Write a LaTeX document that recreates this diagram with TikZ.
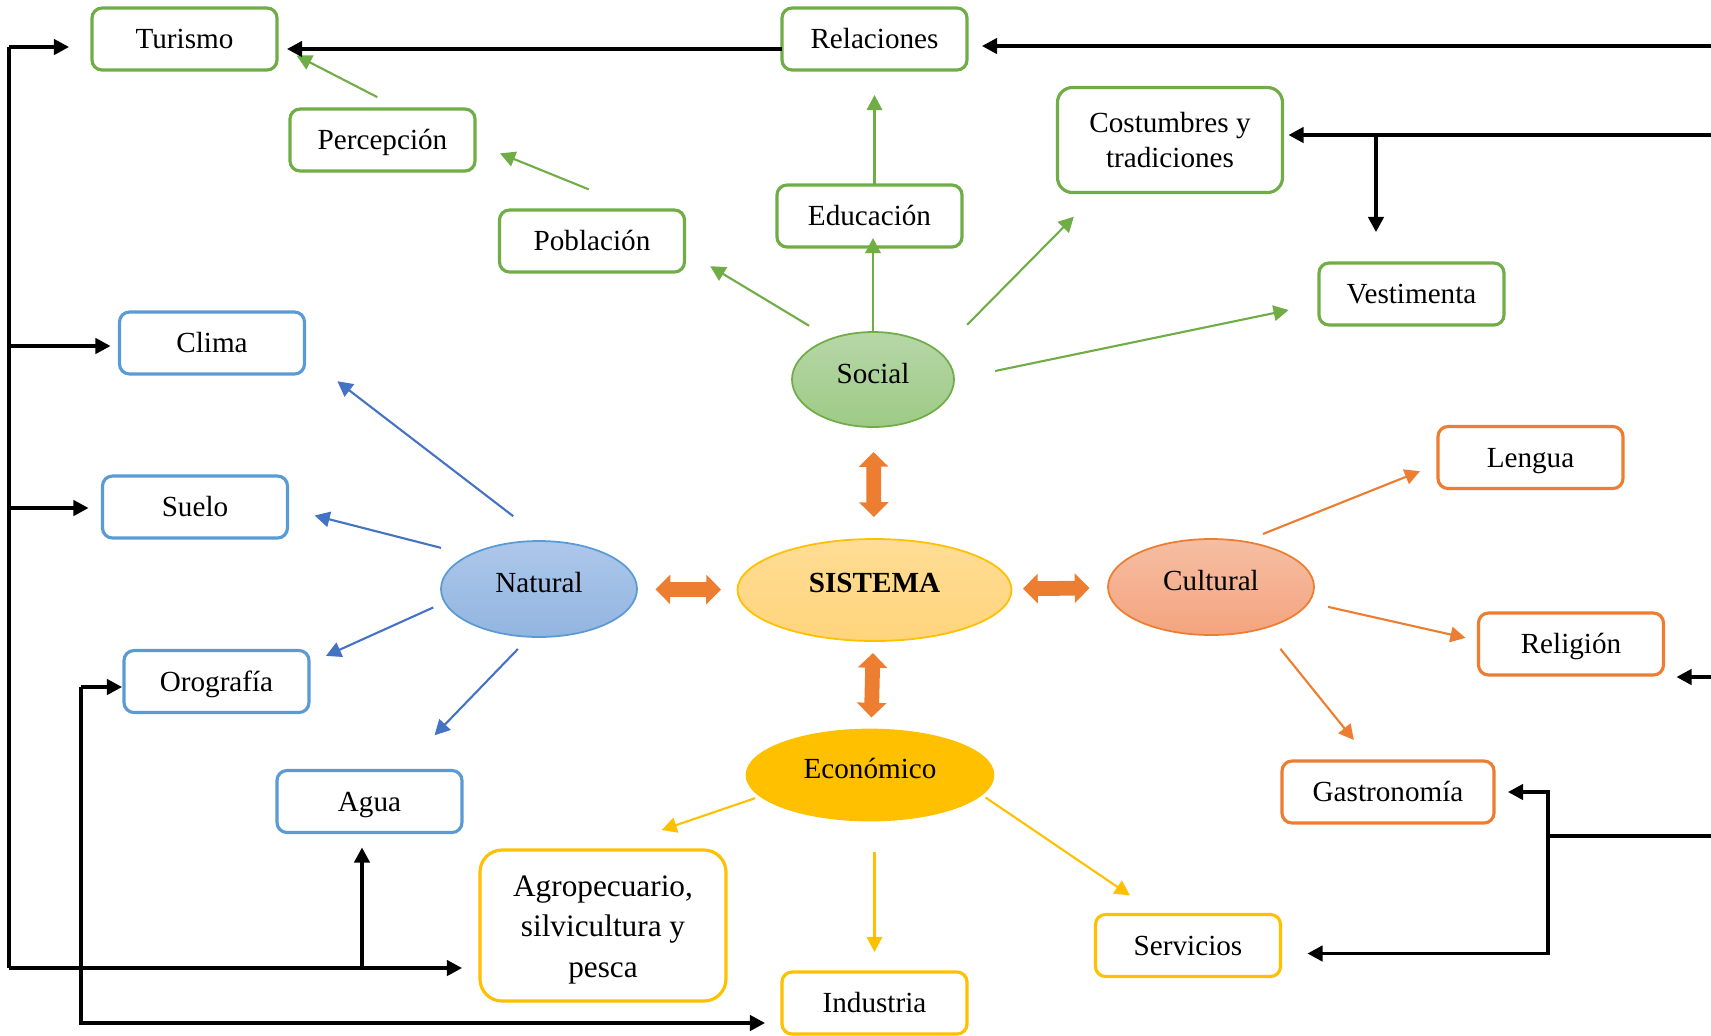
\documentclass[tikz,border=0pt]{standalone}
\usepackage{fontspec}
\setmainfont{Liberation Serif}
\usetikzlibrary{shapes.geometric,arrows.meta}

\definecolor{grn}{HTML}{70AD47}
\definecolor{blu}{HTML}{5B9BD5}
\definecolor{bluarr}{HTML}{4472C4}
\definecolor{org}{HTML}{ED7D31}
\definecolor{yel}{HTML}{FFC000}
\definecolor{socT}{HTML}{B6D7A8}
\definecolor{socB}{HTML}{9ECA85}
\definecolor{natT}{HTML}{ADC7EA}
\definecolor{natB}{HTML}{92B5E0}
\definecolor{sisT}{HTML}{FFDD95}
\definecolor{sisB}{HTML}{FFD47C}
\definecolor{culT}{HTML}{F5BEA3}
\definecolor{culB}{HTML}{F4A47F}

\tikzset{
  >={Triangle[width=4.4pt,length=4.3pt]},
  box/.style={draw, rounded corners=0.1cm, line width=0.9pt, fill=white,
    minimum width=1.85cm, minimum height=0.62cm, inner sep=0pt, outer sep=0pt, align=center,
    text height=7.6pt, text depth=2pt},
  gbox/.style={box, draw=grn},
  bbox/.style={box, draw=blu},
  obox/.style={box, draw=org},
  ybox/.style={box, draw=yel},
  oval/.style={ellipse, draw, line width=0.5pt, inner sep=0pt, outer sep=0pt,
    text height=6pt, text depth=4pt},
  garr/.style={->, grn, line width=0.6pt},
  barr/.style={->, bluarr, line width=0.6pt},
  oarr/.style={->, org, line width=0.6pt},
  yarr/.style={->, yel, line width=0.6pt},
  blk/.style={black, line width=0.9pt},
  dbl/.style={org, line width=4.2pt,
    {Triangle[width=8.2pt,length=4.2pt]}-{Triangle[width=8.2pt,length=4.2pt]}},
}

\begin{document}
\begin{tikzpicture}[x=1cm,y=-1cm,font=\fontsize{8.3}{10.2}\selectfont]
\useasboundingbox (0,0) rectangle (17.11,10.35);

% centre:
\node[oval, draw=yel, top color=sisT, bottom color=sisB, minimum width=2.74cm, minimum height=1.02cm, text depth=4.5pt] (sis) at (8.745,5.90) {\textbf{SISTEMA}};
\node[oval, draw=grn, top color=socT, bottom color=socB, minimum width=1.62cm, minimum height=0.95cm] (soc) at (8.73,3.795) {Social};
\node[oval, draw=blu, top color=natT, bottom color=natB, minimum width=1.96cm, minimum height=0.96cm] (nat) at (5.39,5.89) {Natural};
\node[oval, draw=org, top color=culT, bottom color=culB, minimum width=2.06cm, minimum height=0.96cm] (cul) at (12.11,5.87) {Cultural};
\node[oval, draw=yel, fill=yel, minimum width=2.47cm, minimum height=0.91cm] (eco) at (8.70,7.75) {Económico};

\draw[dbl, shorten <=0.25cm, shorten >=0.22cm] (soc) -- (sis);
\draw[dbl, shorten <=0.165cm, shorten >=0.185cm] (sis) -- (nat);
\draw[dbl, shorten <=0.115cm, shorten >=0.185cm] (sis) -- (cul);
\draw[dbl, shorten <=0.12cm, shorten >=0.12cm] (sis) -- (eco);

% social:
\node[gbox] (tur) at (1.845,0.39) {Turismo};
\node[gbox] (rel) at (8.745,0.39) {Relaciones};
\node[gbox] (per) at (3.825,1.40) {Percepción};
\node[gbox] (pob) at (5.92,2.41) {Población};
\node[gbox] (edu) at (8.695,2.16) {Educación};
\node[gbox, minimum width=2.25cm, minimum height=1.05cm, rounded corners=0.15cm, text height={}, text depth={}] (cos) at (11.70,1.40) {Costumbres y\\tradiciones};
\node[gbox] (ves) at (14.115,2.94) {Vestimenta};

\draw[garr, shorten <=0.255cm, shorten >=0.30cm] (soc.136) -- (pob.-6);
\draw[garr, shorten >=-0.09cm] (soc) -- (soc |- edu.south);
\draw[garr, shorten >=0.25cm] (edu.north -| rel) -- (rel.south);
\draw[garr, shorten <=0.39cm, shorten >=0.34cm] (soc.22) -- (cos.-144);
\draw[garr, shorten <=0.42cm, shorten >=0.31cm] (soc.east) -- (ves.-174);
\draw[garr, shorten <=0.55cm, shorten >=0.27cm] (pob.33) -- (per.-2);
\draw[garr, shorten <=0.26cm, shorten >=0.22cm] (per.60) -- (tur.-4);

% natural:
\node[bbox] (cli) at (2.12,3.43) {Clima};
\node[bbox] (sue) at (1.95,5.07) {Suelo};
\node[bbox] (oro) at (2.165,6.815) {Orografía};
\node[bbox] (agu) at (3.695,8.015) {Agua};

\draw[barr, shorten <=0.41cm, shorten >=0.415cm] (nat.82) -- (cli.-8);
\draw[barr, shorten <=0.295cm, shorten >=0.28cm] (nat.154) -- (sue.-1);
\draw[barr, shorten <=0.126cm, shorten >=0.186cm] (nat.-172) -- (oro.11);
\draw[barr, shorten <=0.17cm, shorten >=0.49cm] (nat.-101) -- (agu.45);

% cultural:
\node[obox] (len) at (15.305,4.575) {Lengua};
\node[obox] (rlg) at (15.71,6.44) {Religión};
\node[obox, minimum width=2.12cm] (gas) at (13.88,7.92) {Gastronomía};

\draw[oarr, shorten <=0.204cm, shorten >=0.194cm] (cul.54) -- (len.-176);
\draw[oarr, shorten <=0.20cm, shorten >=0.133cm] (cul.-9) -- (rlg.178);
\draw[oarr, shorten <=0.265cm, shorten >=0.27cm] (cul.-38) -- (gas.119);

% economico:
\node[ybox, minimum width=2.46cm, minimum height=1.51cm, rounded corners=0.22cm, text height={}, text depth={}, font=\fontsize{8.9}{11.4}\selectfont] (agr) at (6.03,9.255) {\rule{0pt}{8.4pt}Agropecuario,\\silvicultura y\\pesca};
\node[ybox] (ind) at (8.745,10.03) {Industria};
\node[ybox] (ser) at (11.88,9.455) {Servicios};

\draw[yarr, shorten <=0.06cm, shorten >=0.62cm] (eco.-169) -- (agr.north);
\draw[yarr, shorten <=0.31cm, shorten >=0.20cm] (eco.south -| ind) -- (ind.north);
\draw[yarr, shorten <=0.05cm, shorten >=0.34cm] (eco.-10) -- (ser.134);

% black links, right:
\coordinate (rtop) at (17.11,0.46);
\draw[blk,->, shorten >=0.15cm] (rtop) -- (rtop -| rel.east);
\draw[blk,->, shorten >=0.10cm] ([yshift=-0.10cm]rel.west) -- ([yshift=-0.10cm]tur.east);

\coordinate (rcos) at (17.11,1.35);
\coordinate (jves) at (13.76,1.35);
\draw[blk,->, shorten >=0.06cm] (rcos) -- (rcos -| cos.east);
\draw[blk,->, shorten >=0.31cm] (jves) -- (jves |- ves.north);

\coordinate (rrlg) at (17.11,6.77);
\draw[blk,->, shorten >=0.13cm] (rrlg) -- (rrlg -| rlg.east);

\coordinate (rgas) at (17.11,8.36);
\coordinate (jgas) at (15.48,8.36);
\draw[blk] (rgas) -- (jgas);
\draw[blk,->, shorten >=0.14cm] (jgas) |- (gas.east);
\draw[blk,->, shorten >=0.27cm] (jgas) |- ([yshift=-0.08cm]ser.east);

% black links, left:
\coordinate (ltop) at (0.09,0.47);
\coordinate (lbot) at (0.09,9.68);
\draw[blk] (ltop) -- (lbot);
\draw[blk,->, shorten >=0.23cm] (ltop) -- (ltop -| tur.west);
\coordinate (lcli) at (0.09,3.46);
\draw[blk,->, shorten >=0.09cm] (lcli) -- (lcli -| cli.west);
\coordinate (lsue) at (0.09,5.08);
\draw[blk,->, shorten >=0.14cm] (lsue) -- (lsue -| sue.west);
\draw[blk,->, shorten >=0.18cm] (lbot) -- (lbot -| agr.west);
\coordinate (lagu) at (3.62,9.68);
\draw[blk,->, shorten >=0.15cm] (lagu) -- (lagu |- agu.south);

\coordinate (loro) at (0.81,6.87);
\coordinate (lind) at (0.81,10.23);
\draw[blk,->, shorten >=0.02cm] (loro) -- (loro -| oro.west);
\draw[blk,->, shorten >=0.17cm] (loro) -- (lind) -- (lind -| ind.west);

\end{tikzpicture}
\end{document}
